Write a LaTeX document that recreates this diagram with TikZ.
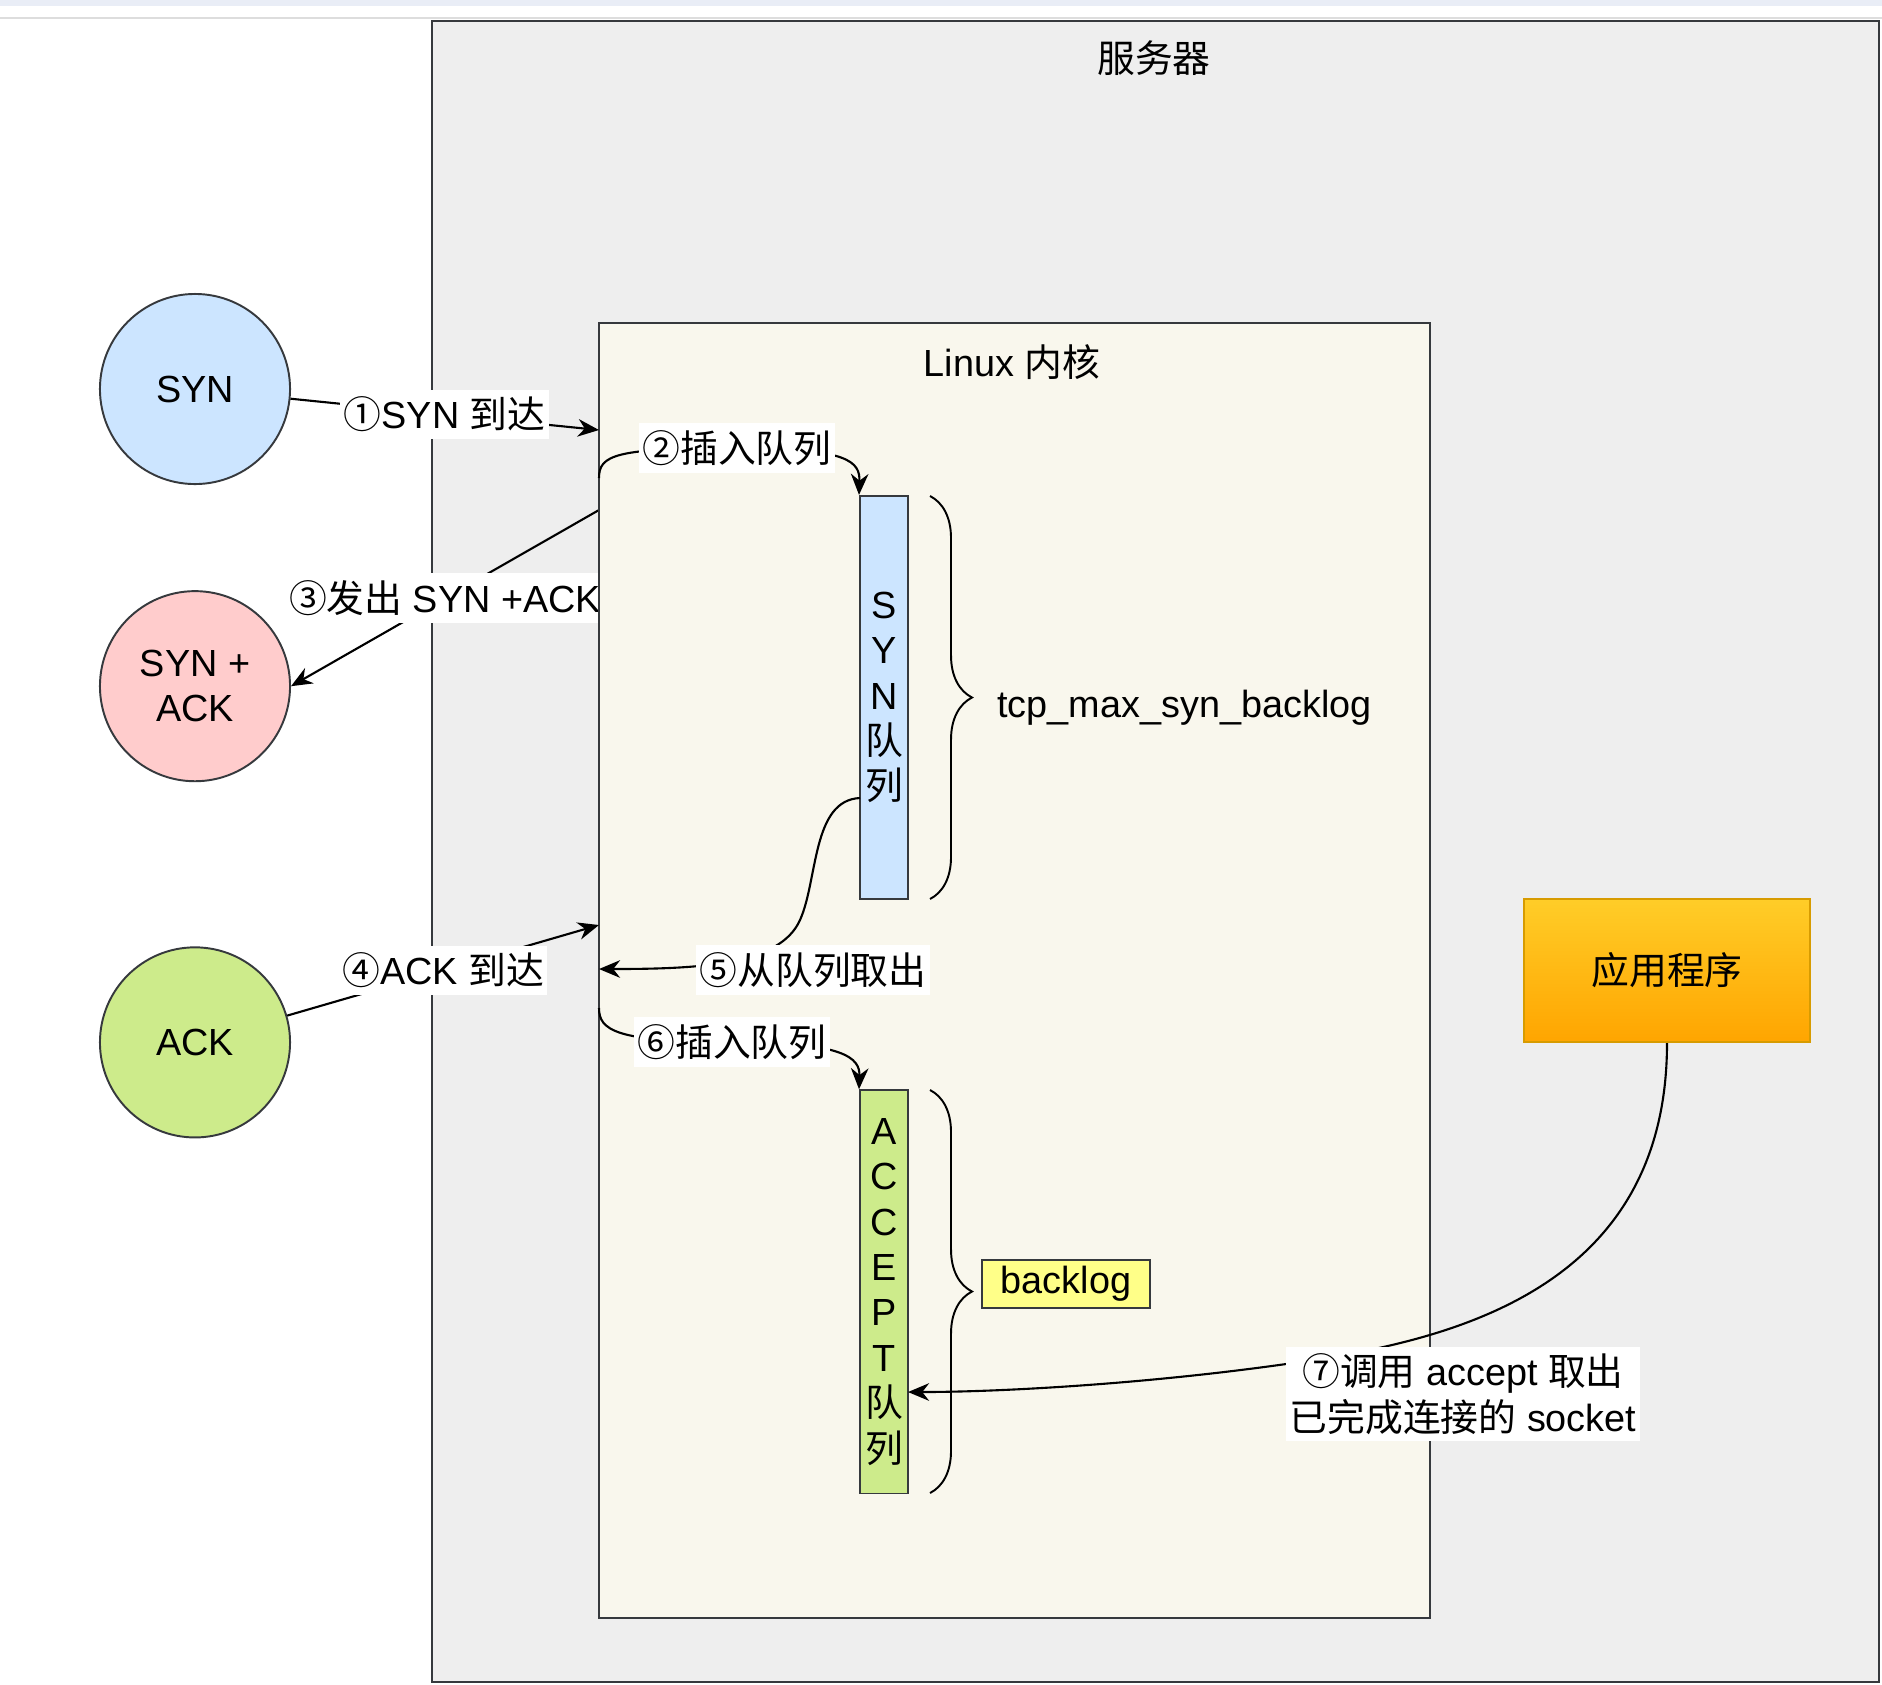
\documentclass[tikz,border=0pt]{standalone}
\usepackage{fontspec}
\setmainfont{Liberation Sans}
\newfontfamily\cjkfont{Noto Sans CJK SC}
\usetikzlibrary{arrows.meta, positioning, decorations.pathreplacing}
\definecolor{srvgray}{HTML}{EEEEEE}
\definecolor{kernfill}{HTML}{F9F7ED}
\definecolor{edgegray}{HTML}{36393D}
\definecolor{synblue}{HTML}{CCE5FF}
\definecolor{synackred}{HTML}{FFCCCC}
\definecolor{ackgreen}{HTML}{CDEB8B}
\definecolor{logyellow}{HTML}{FFFF88}
\definecolor{apptop}{HTML}{FFCD28}
\definecolor{appbot}{HTML}{FFA500}
\definecolor{appline}{HTML}{D79B00}
\definecolor{topband}{HTML}{E9EDF6}
\definecolor{topline}{HTML}{DDDDDD}
\newcommand*{\zh}[1]{{\cjkfont #1}}

\begin{document}
\begin{tikzpicture}[
        x=0.01cm, y=-0.01cm, node distance=1cm, on grid,
        >={Stealth[length=6pt,width=5pt]},
        every node/.style={font=\fontsize{10.75pt}{12.9pt}\selectfont},
        box/.style={draw=edgegray, line width=0.55pt},
        pkt/.style={box, circle, minimum size=1.9cm, align=center},
        queue/.style={box, minimum width=0.48cm, minimum height=4.03cm, align=center, inner sep=0pt},
        lbl/.style={fill=white, inner xsep=1pt, inner ysep=2pt, align=center},
        conn/.style={->, line width=0.6pt},
        qbrace/.style={decorate, decoration={brace, amplitude=0.42cm}, line width=0.55pt},
        ]

        \useasboundingbox (0,0) rectangle (1882,1684);
        \fill[white] (0,0) rectangle (1882,1684);
        \fill[topband] (0,0) rectangle (1882,6);
        \draw[topline, line width=0.6pt] (0,18) -- (1882,18);

        % packets
        \node[pkt, fill=synblue]   (syn) at (195,389)                {SYN};
        \node[pkt, fill=synackred] (synack) [below=2.97cm of syn]    {SYN +\\ACK};
        \node[pkt, fill=ackgreen]  (ack)    [below=3.56cm of synack] {ACK};

        % server
        \draw[box, fill=srvgray, line width=0.7pt] (432,21) rectangle (1879,1682);
        \node (srv) at (1154,58) {\zh{服务器}};

        \coordinate (k_in1)  at (599,430);
        \coordinate (k_out2) at (599,478);
        \coordinate (k_out3) at (599,510);
        \coordinate (k_in4)  at (599,925);
        \coordinate (k_in5)  at (599,969);
        \coordinate (k_out6) at (599,1008);

        \draw[conn] (k_out3) -- node[lbl] {\zh{③发出} SYN +ACK} (synack.east);

        % kernel
        \node[box, fill=kernfill, minimum width=8.31cm, minimum height=12.95cm, inner sep=0pt] (kernel) at (1014.5,970.5) {};
        \node (kern) at (1012,362) {Linux \zh{内核}};

        % queues
        \node[queue, fill=synblue]  (synq) at (884,697.5)          {S\\Y\\N\\\zh{队}\\\zh{列}};
        \node[queue, fill=ackgreen] (accq) [below=5.94cm of synq] {A\\C\\C\\E\\P\\T\\\zh{队}\\\zh{列}};
        \draw[qbrace] (930,496) -- (930,899);
        \draw[qbrace] (930,1090) -- (930,1493);
        \node[anchor=west] (synmax) at (985,708) {tcp\_max\_syn\_backlog};
        \node[box, fill=logyellow, minimum width=1.67cm, minimum height=0.48cm, inner sep=0pt] (blog) at (1066,1284) {backlog};

        \coordinate (q_out5) at (860,798);
        \coordinate (q_in7)  at (908,1392);

        % application
        \node[draw=appline, line width=0.55pt, top color=apptop, bottom color=appbot,
              minimum width=2.86cm, minimum height=1.43cm] (app) at (1667,970.5) {\zh{应用程序}};

        % connectors
        \draw[conn] (syn) -- node[lbl] {\zh{①}SYN \zh{到达}} (k_in1);
        \draw[conn] (k_out2) .. controls (599,455) and (615,448) .. (737,448)
              node[lbl] {\zh{②插入队列}}
              .. controls (850,448) and (860,462) .. (synq.north west);
        \draw[conn] (ack) -- node[lbl] {\zh{④}ACK \zh{到达}} (k_in4);
        \draw[conn] (q_out5) .. controls (812,800) and (818,880) .. (800,920)
              .. controls (780,965) and (700,969) .. (k_in5);
        \node[lbl] (l5) at (813,970) {\zh{⑤从队列取出}};
        \draw[conn] (k_out6) .. controls (599,1030) and (615,1042) .. (732,1042)
              node[lbl] {\zh{⑥插入队列}}
              .. controls (845,1042) and (860,1058) .. (accq.north west);
        \draw[conn] (app.south) .. controls (1667,1290) and (1450,1340) .. (1300,1362)
              .. controls (1150,1384) and (1000,1392) .. (q_in7);
        \node[lbl] (l7) at (1463,1394) {\zh{⑦调用} accept \zh{取出}\\\zh{已完成连接的} socket};
      \end{tikzpicture}
\end{document}
